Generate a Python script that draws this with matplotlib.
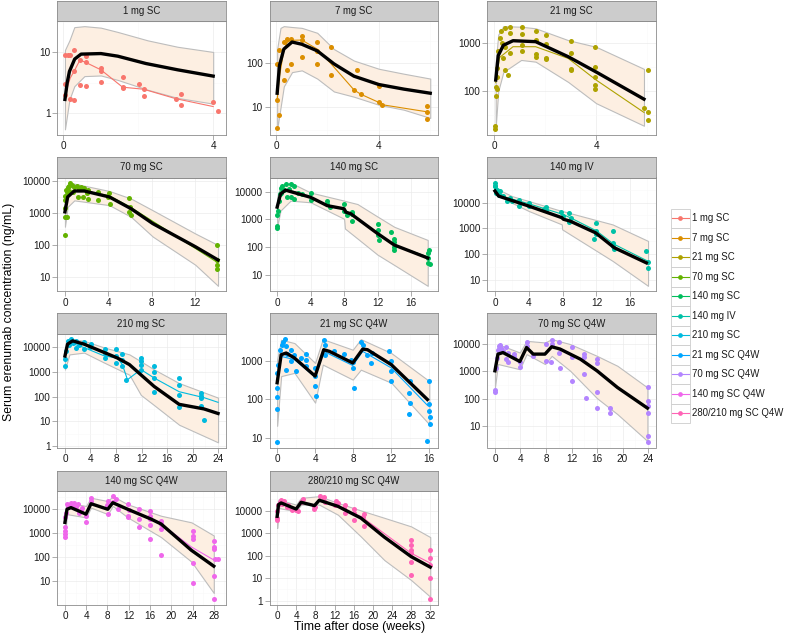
import numpy as np
import matplotlib

matplotlib.use("Agg")
import matplotlib.pyplot as plt
from matplotlib.patches import Rectangle

plt.rcParams["font.family"] = ["Liberation Sans", "DejaVu Sans"]

labels = ["1 mg SC", "7 mg SC", "21 mg SC", "70 mg SC", "140 mg SC", "140 mg IV",
          "210 mg SC", "21 mg SC Q4W", "70 mg SC Q4W", "140 mg SC Q4W", "280/210 mg SC Q4W"]
colors = ["#F8766D", "#DB8E00", "#AEA200", "#64B200", "#00BD5C", "#00C1A7",
          "#00BADE", "#00A6FF", "#B385FF", "#EF67EB", "#FF63B6"]
x_last_tick = [4, 4, 4, 12, 16, 16, 24, 16, 24, 28, 32]
y_ticks = [[1, 10], [10, 100], [100, 1000], [10, 100, 1000, 10000],
           [10, 100, 1000, 10000], [10, 100, 1000, 10000, 100000],
           [1, 10, 100, 1000, 10000], [10, 100, 1000], [10, 100, 1000, 10000],
           [10, 100, 1000, 10000], [1, 10, 100, 1000, 10000]]

# observed points (week, ng/mL), observed median, predicted median, 90% PI (week, lo, hi)
p1_obs = [(0.04, 9.1), (0.12, 9.1), (0.18, 9.1), (0.29, 10.9), (0.04, 3.0), (0.04, 2.0), (0.18, 1.75),
          (0.29, 1.65), (0.29, 5.0), (0.44, 7.5), (0.44, 2.95), (0.59, 7.1), (0.59, 2.8), (0.59, 8.8),
          (1.0, 5.6), (1.0, 5.0), (1.0, 3.3), (1.58, 3.9), (1.58, 2.7), (1.58, 2.6), (2.03, 3.0),
          (2.14, 2.5), (2.14, 1.9), (3.0, 1.75), (3.14, 2.1), (3.14, 1.4), (4.0, 1.56), (4.13, 1.09)]
p1_med = [(0.04, 2.0), (0.18, 3.8), (0.29, 5.0), (0.44, 7.5), (0.59, 6.9), (1.0, 5.2), (1.58, 2.7),
          (2.14, 2.5), (3.0, 1.75), (4.0, 1.3)]
p1_pred = [(0.04, 1.7), (0.1, 3.2), (0.16, 4.9), (0.3, 7.8), (0.47, 9.4), (1.0, 9.6), (1.45, 8.7),
           (2.2, 6.6), (3.05, 5.2), (4.0, 4.1)]
p1_band = [(0.04, 0.55, 11), (0.16, 1.7, 15.8), (0.29, 2.8, 26), (0.56, 4.1, 27), (1.0, 4.2, 25.5),
           (1.45, 3.55, 21.7), (2.25, 2.45, 15.8), (3.05, 1.8, 12.4), (4.0, 1.45, 10.2)]

p2_obs = [(0.04, 3.5), (0.04, 15), (0.13, 6.6), (0.04, 97), (0.13, 200), (0.3, 41), (0.43, 69),
          (0.3, 295), (0.43, 360), (0.56, 360), (0.58, 97), (1.0, 410), (1.0, 335), (1.0, 136),
          (1.6, 295), (1.6, 191), (1.6, 97), (2.12, 235), (2.12, 55), (3.16, 69), (3.03, 25),
          (3.29, 20), (4.0, 31), (4.0, 13.5), (4.14, 11.5), (5.86, 11), (5.86, 7.9), (5.86, 5.6)]
p2_med = [(0.04, 15), (0.13, 50), (0.3, 200), (0.43, 295), (0.56, 330), (1.0, 335), (1.6, 209),
          (2.12, 100), (3.03, 25), (3.29, 20), (4.0, 13), (4.14, 11.5), (5.86, 8)]
p2_pred = [(0.04, 21), (0.13, 89), (0.3, 209), (0.62, 302), (1.0, 269), (1.6, 191), (2.25, 97),
           (3.03, 51), (4.0, 33), (4.97, 26), (6.0, 21)]
p2_band = [(0.04, 3.2, 209), (0.17, 9.8, 631), (0.3, 30, 690), (0.62, 63, 660), (1.0, 69, 631),
           (1.6, 45, 488), (2.25, 23, 209), (3.03, 17.5, 115), (4.0, 11.5, 75), (4.97, 8.9, 58),
           (6.0, 5.8, 45)]

p3_obs = [(0.02, 16), (0.02, 19), (0.05, 80), (0.08, 120), (0.1, 110), (0.1, 200), (0.12, 300),
          (0.15, 700), (0.2, 1300), (0.25, 1800), (0.3, 1000), (0.35, 500), (0.42, 2030),
          (0.62, 2190), (0.62, 1590), (0.42, 830), (0.62, 610), (0.42, 280), (0.54, 215),
          (1.08, 2130), (1.08, 1550), (1.08, 910), (1.08, 690), (1.62, 1810), (1.62, 1150),
          (1.62, 590), (1.62, 520), (2.04, 1470), (2.04, 960), (2.04, 500), (2.04, 460),
          (3.0, 1120), (3.0, 610), (3.0, 295), (3.0, 270), (3.96, 840), (3.96, 325), (3.96, 200),
          (3.96, 133), (3.96, 113), (6.04, 280), (5.88, 44), (6.04, 36), (6.04, 25)]
p3_med = [(0.05, 150), (0.2, 500), (0.73, 840), (1.62, 840), (2.9, 480), (4.0, 170), (5.88, 36)]
p3_pred = [(0.05, 170), (0.15, 550), (0.35, 900), (0.73, 1120), (1.62, 1070), (2.9, 520),
           (4.0, 250), (5.88, 68)]
p3_band = [(0.05, 18, 400), (0.15, 100, 1500), (0.35, 250, 2250), (1.05, 445, 2190),
           (1.62, 410, 2030), (2.9, 155, 1150), (4.0, 56, 835), (5.88, 19, 290)]

p4_obs = [(0, 210), (0, 780), (0.18, 780), (0, 2500), (0.09, 5200), (0.25, 6500), (0.49, 8900),
          (0.62, 7400), (0.86, 6500), (1.1, 7000), (1.48, 6500), (1.78, 6200), (1.17, 3200),
          (1.63, 3200), (2.09, 2850), (2.09, 5200), (3.02, 4600), (3.02, 2500), (4.09, 4100),
          (4.18, 2000), (5.94, 2950), (5.94, 1100), (6.09, 870), (14, 102), (14, 35), (14, 25),
          (14, 19), (0, 1500), (0.05, 3500), (0.15, 4500), (0.35, 7000), (0.4, 5000), (0.7, 4500),
          (1.3, 5500), (2.0, 4300), (4.0, 3300), (6.0, 1600)]
p4_med = [(0, 1500), (0.25, 3800), (0.86, 5200), (2, 4800), (4.09, 3500), (6.09, 1500), (14, 30)]
p4_pred = [(0, 1100), (0.25, 3200), (0.86, 4900), (1.78, 4900), (4.09, 3200), (6.09, 1380),
           (8.09, 475), (12, 91), (14.1, 35)]
p4_band = [(0, 380, 2500), (0.25, 1580, 7400), (0.86, 2500, 8300), (4.09, 1780, 4900),
           (6.09, 770, 2840), (8.09, 187, 1230), (12, 25, 234), (14.1, 5.5, 102)]

p5_obs = [(0, 470), (0, 560), (0, 1380), (0.08, 2070), (0.2, 4700), (0.4, 13800), (0.6, 15800),
          (1.0, 18000), (1.6, 18000), (2.0, 15800), (1.2, 6200), (1.6, 6200), (2, 5400), (3, 8100),
          (4, 8500), (4, 4900), (6, 4700), (6.3, 2750), (8, 3550), (8.3, 1380), (9, 1820), (9, 910),
          (12, 700), (12, 275), (12.2, 182), (13.6, 355), (14, 105), (14, 81), (18.2, 81),
          (18, 27.5), (18.3, 24), (0.5, 9000), (0.8, 11000), (1.4, 12000), (0.3, 8000),
          (2.5, 9000), (6, 3500), (8, 2000), (9, 1500), (12, 400), (14, 150), (14, 200), (18, 40),
          (18, 60)]
p5_med = [(0, 2000), (0.4, 9000), (1.0, 12000), (2, 10000), (4, 6500), (6, 3000), (8, 2300),
          (8.2, 1800), (9, 1500), (12, 300), (14, 120), (18, 45)]
p5_pred = [(0, 2750), (0.4, 8100), (1.0, 11200), (2, 9200), (4, 6200), (6, 3100), (8, 2400),
           (8.2, 1820), (8.8, 1590), (12, 310), (14, 120), (18, 41)]
p5_band = [(0, 540, 6200), (0.4, 2070, 15800), (1.6, 4700, 20800), (4, 4100, 9200),
           (8, 1050, 4700), (8.1, 470, 4600), (9.6, 205, 3550), (12, 54, 1260), (14, 23, 540),
           (18, 4.1, 182)]

p6_obs = [(0, 59000), (0.05, 44000), (0.1, 32000), (0.15, 24000), (0.6, 28000), (1.0, 17800),
          (1.4, 11400), (1.8, 15300), (2.8, 13100), (2.8, 7300), (4, 9800), (5.8, 5450), (6, 6900),
          (7.8, 4300), (8.8, 3800), (8.8, 1780), (11.9, 1560), (11.7, 370), (11.9, 790),
          (13.9, 790), (13.9, 280), (14.1, 155), (17.9, 129), (18.1, 50), (18.1, 30), (0, 45000),
          (0.3, 30000), (0.5, 20000), (2, 12000), (4, 7500), (6, 5000), (8, 3000), (9, 2500),
          (12, 600), (14, 200)]
p6_med = [(0, 40000), (1, 17000), (4, 9000), (8, 3500), (9, 2500), (12, 800), (14, 250), (18, 55)]
p6_pred = [(0, 28000), (0.43, 17800), (4, 7300), (7.9, 2600), (8.1, 2250), (8.9, 1900),
           (11.9, 670), (14.1, 178), (17.9, 46)]
p6_band = [(0, 24000, 37500), (2, 9800, 17800), (4, 4700, 11400), (7.9, 1420, 4700),
           (7.95, 910, 4690), (13.9, 55, 1420), (18.1, 5.9, 325)]

p7_obs = [(0, 1660), (0, 3150), (0.15, 6900), (0.4, 17500), (0.9, 20500), (1.7, 17500),
          (1.7, 9400), (3, 15900), (3, 8000), (4.1, 12900), (6.2, 8000), (6.2, 3600), (8, 8000),
          (8, 2300), (9, 5000), (9, 1660), (9.5, 480), (11.9, 3600), (11.9, 1950), (11.9, 1230),
          (13.9, 1660), (13.9, 560), (13.9, 151), (17.9, 560), (17.9, 117), (17.9, 39),
          (21.3, 138), (21.3, 85), (21.3, 43), (21.8, 11.2), (0.6, 12000), (1.2, 14000),
          (2.2, 12000), (4, 10000), (6.2, 5500), (8, 4500), (9, 3000), (11.9, 2800), (13.9, 1000),
          (17.9, 300), (21.3, 110)]
p7_med = [(0, 5000), (0.7, 15000), (3, 9400), (6.2, 4300), (8.2, 3600), (9, 1950), (9.8, 480),
          (11.9, 1230), (14, 560), (17.9, 158), (21.8, 91), (24, 59)]
p7_pred = [(0, 4300), (0.4, 12900), (1.2, 17500), (3, 12900), (6.2, 5900), (8.2, 3600),
           (10.1, 1950), (11.9, 760), (14, 255), (17.9, 49), (21.8, 32), (24, 21)]
p7_band = [(0, 1230, 9400), (0.7, 5000, 20500), (3, 5900, 17500), (6.2, 2300, 9400),
           (10.1, 760, 5000), (11.9, 117, 2630), (14, 45, 1230), (17.9, 7.4, 350), (24, 1.45, 91)]

p8_obs = [(0, 7.9), (0, 56), (0, 117), (0, 200), (0, 485), (0.14, 790), (0.35, 1900), (0.6, 3100),
          (0.95, 2330), (0.95, 585), (1.47, 1900), (1.82, 1420), (2, 535), (3.05, 1060),
          (3.05, 720), (3.99, 650), (3.99, 219), (4.1, 123), (4.9, 3450), (5.04, 1420),
          (7.77, 1060), (7.95, 650), (8.1, 200), (8.8, 3100), (9.5, 1420), (9.9, 870),
          (11.8, 1730), (12, 535), (13.9, 148), (13.9, 42), (16, 297), (16, 76), (16.1, 35),
          (16.1, 23), (15.8, 8.7), (0.5, 2500), (0.8, 3500), (1.0, 1500), (1.5, 1000), (2.5, 1200),
          (3.0, 1500), (4.0, 400), (5.0, 2500), (6, 1800), (7, 1500), (8, 900), (9, 2500),
          (10, 1600), (12, 1000), (12, 300), (14, 300), (14, 80), (16, 50)]
p8_med = [(0, 325), (0.42, 1290), (1.82, 1060), (3.99, 380), (4.9, 1730), (7.95, 750), (9, 1730),
          (12, 650), (15.8, 71)]
p8_pred = [(0, 270), (0.42, 1420), (0.95, 1570), (1.82, 1170), (3.99, 400), (4.9, 1910),
           (5.5, 1730), (7.95, 870), (9, 1980), (9.5, 1910), (12, 790), (15.8, 100)]
p8_band = [(0, 21, 1070), (0.42, 400, 3450), (1.82, 485, 2830), (3.99, 83, 870),
           (4.8, 790, 3570), (7.95, 325, 1910), (8.8, 585, 3570), (12, 270, 1570), (16, 23, 297)]

p9_obs = [(0, 170), (0, 210), (0.1, 1300), (0.3, 3000), (0.5, 6000), (0.7, 8500), (1, 7000),
          (1.3, 5500), (2, 4900), (2, 2140), (3, 4500), (3, 3500), (3.9, 2140), (3.9, 1470),
          (4.95, 12200), (4.95, 8700), (6, 3700), (8, 10000), (8, 2450), (8.8, 2140), (9, 14000),
          (9, 10000), (10, 11500), (10, 4900), (10.2, 1320), (12, 7600), (12, 3250), (12, 445),
          (14, 4300), (14, 3250), (14, 830), (14.3, 110), (16, 2800), (16, 2100), (16, 170),
          (16, 45), (18, 47), (18, 31), (24, 257), (24, 83), (24, 55), (24, 31), (24, 4.3),
          (24, 2.5), (0.74, 9600), (1.8, 7600), (1.8, 2800)]
p9_med = [(0, 1000), (0.5, 4500), (1.3, 5000), (3.9, 2300), (4.95, 7500), (6, 4300), (7.8, 4300),
          (8.9, 8000), (10.2, 6500), (13.4, 2800), (16, 1000), (19.2, 250), (24, 45)]
p9_pred = [(0, 1050), (0.47, 4300), (1.26, 4900), (3.9, 2300), (4.95, 7500), (6, 4300),
           (7.84, 4300), (8.9, 8000), (10.2, 6600), (13.4, 2800), (16, 1050), (19.2, 257),
           (23.9, 45)]
p9_band = [(0, 257, 1500), (0.47, 1860, 10000), (3.9, 1200, 4900), (4.95, 4300, 13200),
           (7.84, 1860, 11500), (8.9, 3700, 15200), (11.8, 1050, 10000), (16, 104, 3700),
           (19.2, 27, 1600), (23.9, 2.8, 257)]

p10_obs = [(0, 690), (0, 950), (0, 1300), (0, 1890), (0, 4600), (0.2, 7300), (0.38, 16000),
           (1.13, 18700), (1.76, 18700), (2.4, 16000), (2.7, 7300), (3.3, 11700), (3.96, 2850),
           (3.96, 5350), (4.9, 30000), (4.9, 22000), (8.05, 22000), (8.05, 6250), (9, 35000),
           (9.6, 25700), (9.9, 10000), (11.9, 16000), (11.9, 5350), (11.9, 4600), (14, 10000),
           (14, 3900), (14, 1780), (16, 8500), (16, 5350), (16, 2290), (16, 590), (18.1, 3300),
           (18.1, 1510), (18.1, 123), (24.1, 1290), (24.1, 810), (24.1, 590), (24.1, 56),
           (24.1, 8.5), (28, 500), (28, 270), (28, 230), (28.2, 89), (28.8, 85), (28, 17),
           (28, 1.8), (0.6, 12000), (1.0, 14000), (1.5, 12000), (2.0, 13000), (3.0, 9000),
           (8, 15000), (9, 20000), (12, 9000), (16, 4000), (18, 2500)]
p10_med = [(0, 2850), (0.38, 10000), (1.13, 11700), (3.96, 6250), (4.9, 17000), (8.05, 10000),
           (9, 18700), (11.8, 10000), (16.2, 3900), (18.1, 2430), (23.8, 270), (28, 78)]
p10_pred = [(0, 2850), (0.38, 10000), (1.13, 11700), (3.96, 6250), (4.9, 17000), (8.05, 10000),
            (9, 18700), (11.8, 10000), (16.2, 3900), (18.1, 2430), (23.8, 196), (28, 43)]
p10_band = [(0, 690, 3000), (0.38, 6250, 18700), (3.96, 4600, 13700), (4.9, 11700, 30000),
            (8.05, 6250, 21900), (9, 13700, 35000), (11.8, 4600, 16000), (18.1, 690, 5350),
            (23.8, 66, 2850), (28, 3.3, 810)]

p11_obs = [(0, 4000), (0, 4700), (0, 9400), (0.28, 18500), (0.83, 31000), (1.53, 26000),
           (2.2, 18500), (2.9, 13100), (3.97, 11000), (4.3, 10000), (5.35, 33000), (7.8, 11800),
           (7.8, 16700), (9, 44000), (9.8, 40700), (12.3, 26000), (12.7, 22000), (14.1, 18500),
           (14.1, 7900), (16, 11800), (16, 4000), (18.1, 7400), (18.1, 2140), (28, 510), (28, 305),
           (28, 182), (28, 138), (28, 55), (28, 13.8), (32, 170), (32, 78), (32, 39), (32, 10),
           (32, 1.15), (0.5, 25000), (1, 20000), (2, 15000), (3, 11000), (5, 25000), (8, 14000),
           (9.5, 30000), (10, 25000), (12, 18000), (14, 13000), (16, 8000), (18, 5000)]
p11_med = [(0, 6600), (0.83, 23500), (4, 11000), (5, 26000), (7.8, 15600), (8.8, 31000),
           (12.7, 14600), (17.5, 5600), (28, 129), (32, 47)]
p11_pred = [(0, 5600), (0.28, 18500), (0.83, 22000), (3.97, 11800), (5, 23500), (7.8, 16700),
            (8.8, 29000), (12.7, 15600), (17.5, 4700), (22.4, 670), (28, 91), (32, 31)]
p11_band = [(0, 1690, 8000), (0.28, 13100, 31000), (3.97, 9400, 18500), (5, 18500, 37000),
            (8.8, 18500, 44000), (12.7, 6600, 22000), (17.5, 710, 10200), (22.4, 64, 4800),
            (28, 8.3, 2000), (32, 1.5, 670)]

panels = [
    (p1_obs, p1_med, p1_pred, p1_band), (p2_obs, p2_med, p2_pred, p2_band),
    (p3_obs, p3_med, p3_pred, p3_band), (p4_obs, p4_med, p4_pred, p4_band),
    (p5_obs, p5_med, p5_pred, p5_band), (p6_obs, p6_med, p6_pred, p6_band),
    (p7_obs, p7_med, p7_pred, p7_band), (p8_obs, p8_med, p8_pred, p8_band),
    (p9_obs, p9_med, p9_pred, p9_band), (p10_obs, p10_med, p10_pred, p10_band),
    (p11_obs, p11_med, p11_pred, p11_band),
]

W, H = 787, 637
fig = plt.figure(figsize=(W / 100, H / 100), dpi=100)


def px_axes(left, top, width, height):
    return fig.add_axes([left / W, 1 - (top + height) / H, width / W, height / H])


col_left = [57.3, 269.5, 487.3]
plot_top = [21, 177.5, 334, 491]
panel_w, panel_h, strip_h = 168.4, 113.5, 20.5
border = "#8C8C8C"
band_fill = "#FDEFE2"
band_edge = "#BDBDBD"

for i, (obs, med, pred, band) in enumerate(panels):
    row, col = divmod(i, 3)
    color = colors[i]
    obs, med, pred, band = (np.array(a, dtype=float) for a in (obs, med, pred, band))

    ax = px_axes(col_left[col], plot_top[row], panel_w, panel_h)
    ax.set_yscale("log")
    ax.fill_between(band[:, 0], band[:, 1], band[:, 2], facecolor=band_fill,
                    edgecolor=band_edge, linewidth=0.8, zorder=1)
    ax.plot(med[:, 0], med[:, 1], color=color, lw=0.8, zorder=2)
    ax.scatter(obs[:, 0], obs[:, 1], s=13, color=color, linewidths=0, zorder=3)
    ax.plot(pred[:, 0], pred[:, 1], color="black", lw=2.4, zorder=4)

    # limits like ggplot: 5% expansion (log space for y)
    ts = np.concatenate([obs[:, 0], med[:, 0], pred[:, 0], band[:, 0]])
    cs = np.log10(np.concatenate([obs[:, 1], med[:, 1], pred[:, 1], band[:, 1], band[:, 2]]))
    tpad = 0.05 * (ts.max() - ts.min())
    cpad = 0.05 * (cs.max() - cs.min())
    xlim = (ts.min() - tpad, ts.max() + tpad)
    ylim = (10 ** (cs.min() - cpad), 10 ** (cs.max() + cpad))

    xt = np.arange(0, x_last_tick[i] + 1, 4)
    ax.set_xticks(xt, [str(v) for v in xt])
    xm = [v for v in np.arange(-2, x_last_tick[i] + 6, 4) if xlim[0] < v < xlim[1]]
    ax.set_xticks(xm, minor=True)
    yt = y_ticks[i]
    ax.set_yticks(yt, [str(v) for v in yt])
    ym = [10 ** (k + 0.5) for k in range(-1, 6) if ylim[0] < 10 ** (k + 0.5) < ylim[1]]
    ax.set_yticks(ym, minor=True)
    ax.set_xlim(xlim)
    ax.set_ylim(ylim)

    ax.grid(True, which="major", color="#EBEBEB", lw=0.5)
    ax.grid(True, which="minor", color="#F8F8F8", lw=0.4)
    ax.set_axisbelow(True)
    ax.tick_params(which="major", direction="out", length=3.4, width=0.5, color=border,
                   labelsize=7.2, labelcolor="#1A1A1A", pad=1.5)
    ax.tick_params(which="minor", length=0)
    for s in ax.spines.values():
        s.set_color(border)
        s.set_linewidth(0.6)

    # facet strip
    sax = px_axes(col_left[col], plot_top[row] - strip_h, panel_w, strip_h)
    sax.set_facecolor("#CCCCCC")
    sax.set_xticks([])
    sax.set_yticks([])
    for s in sax.spines.values():
        s.set_color(border)
        s.set_linewidth(0.6)
    sax.text(0.5, 0.5, labels[i], ha="center", va="center", fontsize=6.9,
             color="#1A1A1A", transform=sax.transAxes)

# overlay in pixel coordinates for titles and legend
lax = fig.add_axes([0, 0, 1, 1])
lax.set_xlim(0, W)
lax.set_ylim(H, 0)
lax.axis("off")
lax.patch.set_alpha(0)

lax.text(9, 312, "Serum erenumab concentration (ng/mL)", rotation=90, ha="center",
         va="center", fontsize=8.8)
lax.text(360, 627, "Time after dose (weeks)", ha="center", va="center", fontsize=8.8)

key_x, key_w, key_h, key_top = 670.7, 19.3, 19.5, 208.5
for i, name in enumerate(labels):
    y0 = key_top + i * key_h
    lax.add_patch(Rectangle((key_x, y0), key_w, key_h, facecolor="white",
                            edgecolor="#CCCCCC", lw=0.6))
    yc = y0 + key_h / 2
    lax.plot([key_x + 1.5, key_x + key_w - 1.5], [yc, yc], color=colors[i], lw=0.8)
    lax.plot([key_x + key_w / 2], [yc], "o", color=colors[i], ms=3.4, mew=0)
    lax.text(key_x + key_w + 2.5, yc, name, ha="left", va="center", fontsize=6.9,
             color="#1A1A1A")

fig.savefig("out.png", dpi=100)
